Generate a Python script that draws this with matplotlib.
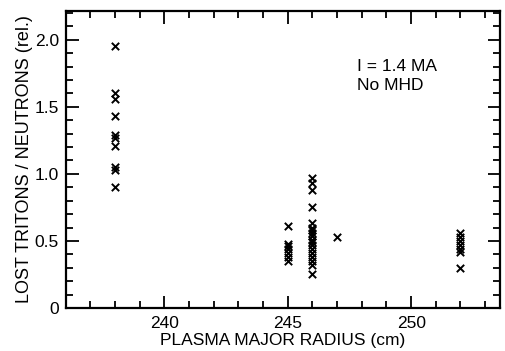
import matplotlib
matplotlib.use('Agg')
import matplotlib.pyplot as plt
from matplotlib.ticker import MultipleLocator

plt.rcParams['font.family'] = ['Liberation Sans', 'DejaVu Sans']

# major radius (cm) and lost tritons / neutrons (rel.)
r_238 = [238] * 10
y_238 = [1.95, 1.60, 1.56, 1.43, 1.29, 1.27, 1.21, 1.05, 1.03, 0.90]

r_245 = [245] * 7
y_245 = [0.61, 0.48, 0.46, 0.44, 0.41, 0.38, 0.35]

r_246 = [246] * 18
y_246 = [0.97, 0.93, 0.88, 0.75, 0.63, 0.60, 0.58, 0.56, 0.54, 0.51,
         0.49, 0.47, 0.44, 0.41, 0.38, 0.35, 0.32, 0.25]

r_247 = [247]
y_247 = [0.53]

r_252 = [252] * 7
y_252 = [0.56, 0.53, 0.50, 0.47, 0.44, 0.42, 0.30]

radius = r_238 + r_245 + r_246 + r_247 + r_252
ratio = y_238 + y_245 + y_246 + y_247 + y_252

fig = plt.figure(figsize=(5.06, 3.51), dpi=100)
ax = fig.add_axes([0.130, 0.1225, 0.858, 0.8465])

ax.scatter(radius, ratio, marker='x', s=28, c='black', linewidths=1.4)

ax.set_xlim(236, 253.6)
ax.set_ylim(0, 2.215)
ax.xaxis.set_major_locator(MultipleLocator(5))
ax.xaxis.set_minor_locator(MultipleLocator(1))
ax.yaxis.set_minor_locator(MultipleLocator(0.1))
ax.set_yticks([0, 0.5, 1.0, 1.5, 2.0])
ax.set_yticklabels(['0', '0.5', '1.0', '1.5', '2.0'])

ax.tick_params(which='both', direction='in', top=True, right=True,
               labelsize=12.5, width=1.3)
ax.tick_params(which='major', length=9)
ax.tick_params(axis='x', which='major', pad=6)
ax.tick_params(axis='y', which='major', pad=5)
ax.tick_params(which='minor', length=5)
for s in ax.spines.values():
    s.set_linewidth(1.6)

ax.set_xlabel('PLASMA MAJOR RADIUS (cm)', fontsize=12.5, labelpad=1)
ax.set_ylabel('LOST TRITONS / NEUTRONS (rel.)', fontsize=13, labelpad=1)

ax.text(247.8, 1.80, 'I = 1.4 MA', fontsize=12.5, va='center')
ax.text(247.8, 1.66, 'No MHD', fontsize=12.5, va='center')

fig.savefig('out.png', dpi=100)
